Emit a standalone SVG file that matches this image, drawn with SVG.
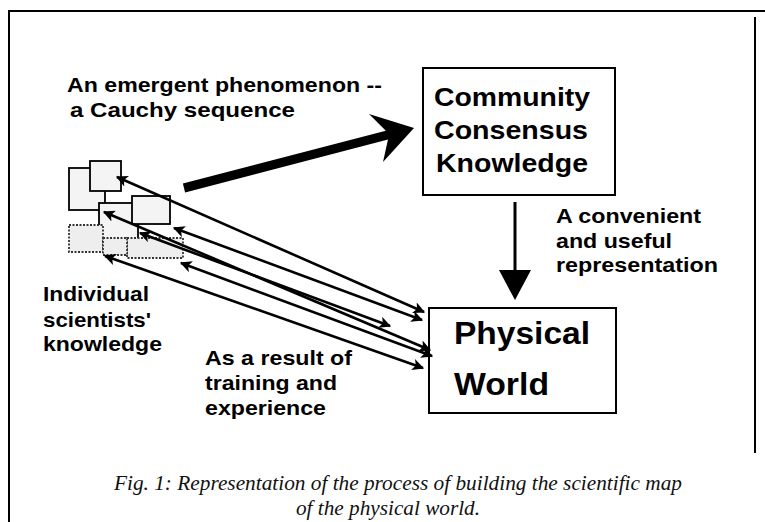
<svg xmlns="http://www.w3.org/2000/svg" width="765" height="522" viewBox="0 0 765 522">
<style>
.lbl{font-family:"Liberation Sans",Arial,sans-serif;font-weight:bold;fill:#000}
.s20{font-size:21px}
.s25{font-size:26px}
.s30{font-size:31px}
.cap{font-family:"Liberation Serif","Times New Roman",serif;font-style:italic;font-size:20px;fill:#111}
.box{fill:#fff;stroke:#000;stroke-width:2}
.sb{fill:#f4f4f4;stroke:#000;stroke-width:1.8}
.sbd{fill:#eee;stroke:#333;stroke-width:1.8;stroke-dasharray:2 1.5}
.ln{stroke:#000;stroke-width:2.6;fill:none;marker-start:url(#ah);marker-end:url(#ah)}
</style>
<defs>
<marker id="ah" viewBox="0 0 10 10" refX="9" refY="5" markerWidth="4.5" markerHeight="4.5" orient="auto-start-reverse" markerUnits="strokeWidth">
<path d="M0,0 L10,5 L0,10 L2.5,5 z" fill="#000"/>
</marker>
</defs>
<rect width="765" height="522" fill="#fff"/>
<g id="frame" stroke="#000" stroke-width="2" fill="none">
<path d="M9,522 V11 H765"/>
<path d="M755,17 V453"/>
</g>
<g id="community">
<rect class="box" x="423" y="68" width="192" height="127"/>
<text class="lbl s25" x="434" y="106" textLength="156" lengthAdjust="spacingAndGlyphs">Community</text>
<text class="lbl s25" x="434" y="139" textLength="154" lengthAdjust="spacingAndGlyphs">Consensus</text>
<text class="lbl s25" x="436" y="172" textLength="152" lengthAdjust="spacingAndGlyphs">Knowledge</text>
</g>
<g id="physical">
<rect class="box" x="429" y="308" width="187" height="105"/>
<text class="lbl s30" x="454" y="344" textLength="136" lengthAdjust="spacingAndGlyphs">Physical</text>
<text class="lbl s30" x="454" y="395" textLength="95" lengthAdjust="spacingAndGlyphs">World</text>
</g>
<g id="scientists">
<rect class="sb" x="69" y="168" width="36" height="42"/>
<rect class="sb" x="90" y="161" width="31" height="30"/>
<rect class="sb" x="99" y="203" width="39" height="36"/>
<rect class="sb" x="132" y="196" width="38" height="28"/>
<rect class="sbd" x="69" y="225" width="34" height="27"/>
<rect class="sbd" x="127" y="238" width="56" height="20"/>
<rect class="sbd" x="103" y="238" width="24" height="17"/>
</g>
<g id="connectors">
<polygon points="182.9,183.6 385.8,130.7 369,114 414,128 383,162 388,139.4 185.1,192.4" fill="#000"/>
<line x1="515" y1="202" x2="515" y2="272" stroke="#000" stroke-width="3"/>
<polygon points="499,270 531,270 515,300" fill="#000"/>
<line class="ln" x1="117" y1="177" x2="424" y2="312"/>
<line class="ln" x1="174" y1="228" x2="422" y2="320"/>
<line class="ln" x1="104" y1="212" x2="430" y2="350"/>
<line class="ln" x1="140" y1="233" x2="390" y2="326"/>
<line class="ln" x1="181" y1="263" x2="432" y2="356"/>
<line class="ln" x1="105" y1="256" x2="423" y2="368"/>
</g>
<g id="labels">
<text class="lbl s20" x="67" y="92" textLength="315" lengthAdjust="spacingAndGlyphs">An emergent phenomenon --</text>
<text class="lbl s20" x="70" y="117" textLength="225" lengthAdjust="spacingAndGlyphs">a Cauchy sequence</text>
<text class="lbl s20" x="556" y="223" textLength="145" lengthAdjust="spacingAndGlyphs">A convenient</text>
<text class="lbl s20" x="556" y="248" textLength="116" lengthAdjust="spacingAndGlyphs">and useful</text>
<text class="lbl s20" x="556" y="272" textLength="162" lengthAdjust="spacingAndGlyphs">representation</text>
<text class="lbl s20" x="43" y="301" textLength="106" lengthAdjust="spacingAndGlyphs">Individual</text>
<text class="lbl s20" x="43" y="327" textLength="108" lengthAdjust="spacingAndGlyphs">scientists'</text>
<text class="lbl s20" x="43" y="351" textLength="119" lengthAdjust="spacingAndGlyphs">knowledge</text>
<text class="lbl s20" x="205" y="365" textLength="147" lengthAdjust="spacingAndGlyphs">As a result of</text>
<text class="lbl s20" x="205" y="390" textLength="132" lengthAdjust="spacingAndGlyphs">training and</text>
<text class="lbl s20" x="205" y="415" textLength="121" lengthAdjust="spacingAndGlyphs">experience</text>
<text class="cap" x="114" y="490" textLength="568" lengthAdjust="spacingAndGlyphs">Fig. 1: Representation of the process of building the scientific map</text>
<text class="cap" x="296" y="515" textLength="184" lengthAdjust="spacingAndGlyphs">of the physical world.</text>
</g>
</svg>
